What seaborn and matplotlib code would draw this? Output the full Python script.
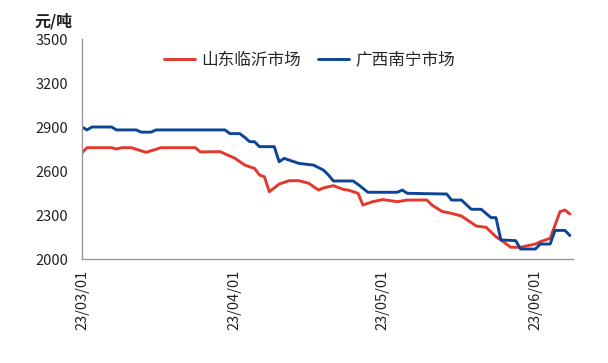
import pandas as pd
import numpy as np
import matplotlib
matplotlib.use('Agg')
import matplotlib.pyplot as plt
import matplotlib.dates as mdates
import seaborn as sns

sns.set_theme(style="white")
plt.rcParams['font.family'] = ['Noto Sans CJK SC', 'DejaVu Sans']

# 山东临沂市场 (读图估计的转折点)
sd_dates = ['2023-03-01', '2023-03-02', '2023-03-07', '2023-03-08', '2023-03-09', '2023-03-11',
            '2023-03-14', '2023-03-17', '2023-03-24', '2023-03-25', '2023-03-29', '2023-04-01',
            '2023-04-03', '2023-04-04', '2023-04-05', '2023-04-06', '2023-04-07', '2023-04-08',
            '2023-04-10', '2023-04-12', '2023-04-14', '2023-04-16', '2023-04-18', '2023-04-19',
            '2023-04-21', '2023-04-23', '2023-04-24', '2023-04-26', '2023-04-27', '2023-04-29',
            '2023-05-01', '2023-05-04', '2023-05-06', '2023-05-10', '2023-05-11', '2023-05-13',
            '2023-05-15', '2023-05-17', '2023-05-20', '2023-05-22', '2023-05-24', '2023-05-25',
            '2023-05-27', '2023-05-29', '2023-06-01', '2023-06-02', '2023-06-04', '2023-06-06',
            '2023-06-07', '2023-06-08']
sd_values = [2725, 2759, 2759, 2750, 2759, 2759,
             2727, 2759, 2759, 2730, 2732, 2687,
             2641, 2629, 2618, 2573, 2561, 2459,
             2511, 2534, 2534, 2516, 2470, 2485,
             2500, 2475, 2470, 2448, 2368, 2391,
             2405, 2391, 2402, 2402, 2368, 2325,
             2311, 2293, 2225, 2216, 2152, 2130,
             2080, 2080, 2102, 2118, 2141, 2323,
             2334, 2307]

# 广西南宁市场
gx_dates = ['2023-03-01', '2023-03-02', '2023-03-03', '2023-03-07', '2023-03-08', '2023-03-12',
            '2023-03-13', '2023-03-15', '2023-03-16', '2023-03-30', '2023-03-31', '2023-04-02',
            '2023-04-03', '2023-04-04', '2023-04-05', '2023-04-06', '2023-04-09', '2023-04-10',
            '2023-04-11', '2023-04-14', '2023-04-17', '2023-04-19', '2023-04-20', '2023-04-21',
            '2023-04-25', '2023-04-26', '2023-04-28', '2023-05-04', '2023-05-05', '2023-05-06',
            '2023-05-14', '2023-05-15', '2023-05-17', '2023-05-19', '2023-05-21', '2023-05-23',
            '2023-05-24', '2023-05-25', '2023-05-28', '2023-05-29', '2023-06-01', '2023-06-02',
            '2023-06-04', '2023-06-05', '2023-06-07', '2023-06-08']
gx_values = [2900, 2880, 2900, 2900, 2880, 2880,
             2865, 2865, 2880, 2880, 2855, 2855,
             2830, 2800, 2800, 2766, 2766, 2663,
             2686, 2652, 2640, 2606, 2573, 2532,
             2532, 2509, 2455, 2455, 2470, 2448,
             2443, 2402, 2402, 2339, 2339, 2282,
             2282, 2130, 2125, 2068, 2068, 2102,
             2102, 2195, 2195, 2160]

fig = plt.figure(figsize=(6.08, 3.63), dpi=100)
ax = fig.add_axes([0.135, 0.2865, 0.807, 0.606])

sns.lineplot(x=pd.to_datetime(sd_dates), y=sd_values, ax=ax, color='#E2392D',
             linewidth=2.1, label='山东临沂市场')
sns.lineplot(x=pd.to_datetime(gx_dates), y=gx_values, ax=ax, color='#0D4596',
             linewidth=2.1, label='广西南宁市场')

ax.set_ylim(2000, 3500)
ax.set_yticks(range(2000, 3501, 300))
ax.set_xlim(pd.Timestamp('2023-03-01'), pd.Timestamp('2023-06-08 14:00'))
ax.set_xticks(pd.to_datetime(['2023-03-01', '2023-04-01', '2023-05-01', '2023-06-01']))
ax.xaxis.set_major_formatter(mdates.DateFormatter('%y/%m/%d'))
plt.setp(ax.get_xticklabels(), rotation=90)

for s in ['top', 'right']:
    ax.spines[s].set_visible(False)
for s in ['left', 'bottom']:
    ax.spines[s].set_color('#999999')
    ax.spines[s].set_linewidth(1)
ax.tick_params(axis='both', which='major', direction='out', length=4.5, width=1,
               color='#999999', labelsize=10.5, labelcolor='#222222')
ax.tick_params(axis='y', pad=5.5)
ax.tick_params(axis='x', pad=3.5)
ax.set_xlabel('')
ax.set_ylabel('')

leg = ax.legend(loc='center', bbox_to_anchor=(0.463, 0.905), ncol=2, frameon=False,
                fontsize=12, handlelength=1.9, columnspacing=1.0, handletextpad=0.35)

fig.text(0.057, 0.918, '元/吨', fontsize=11.5, fontweight='bold', color='#222222',
         va='bottom')

fig.savefig('out.png', dpi=100)
